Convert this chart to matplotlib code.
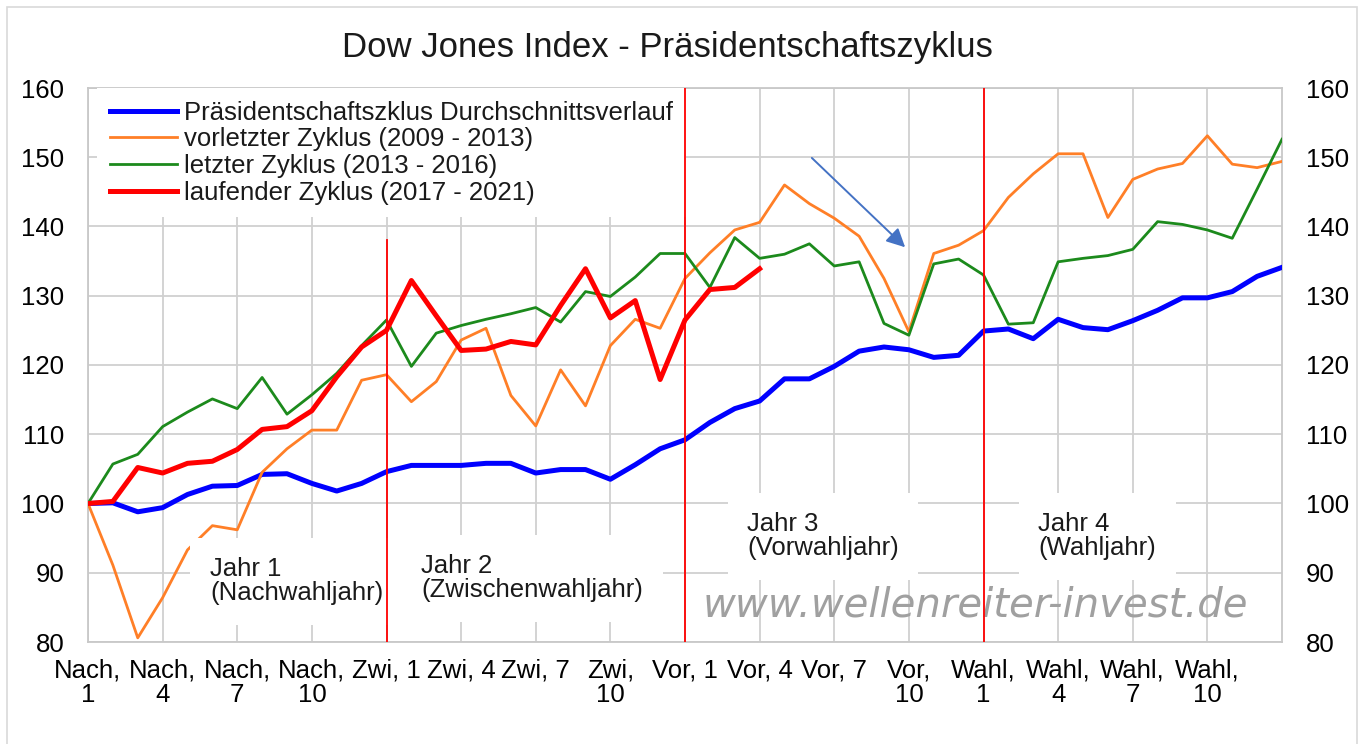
import matplotlib
matplotlib.use("Agg")
import matplotlib.pyplot as plt
from matplotlib.patches import Rectangle

# 49 monthly points: Nach 1..12, Zwi 1..12, Vor 1..12, Wahl 1..12, + 1
tick_pos = list(range(0, 48, 3))
tick_labels = [
    "Nach,\n1", "Nach,\n4", "Nach,\n7", "Nach,\n10",
    "Zwi, 1", "Zwi, 4", "Zwi, 7", "Zwi,\n10",
    "Vor, 1", "Vor, 4", "Vor, 7", "Vor,\n10",
    "Wahl,\n1", "Wahl,\n4", "Wahl,\n7", "Wahl,\n10",
]

avg_cycle = [100, 100.1, 98.8, 99.4, 101.3, 102.5, 102.6, 104.2, 104.3, 102.9,
             101.8, 102.9, 104.6, 105.5, 105.5, 105.5, 105.8, 105.8, 104.4, 104.9,
             104.9, 103.5, 105.6, 107.9, 109.2, 111.7, 113.7, 114.8, 118.0, 118.0,
             119.8, 122.0, 122.6, 122.2, 121.1, 121.4, 124.9, 125.2, 123.8, 126.6,
             125.4, 125.1, 126.4, 127.9, 129.7, 129.7, 130.6, 132.8, 134.1]

cycle_2009 = [100, 91.1, 80.6, 86.4, 93.3, 96.8, 96.2, 104.5, 107.9, 110.6,
              110.6, 117.8, 118.6, 114.7, 117.6, 123.6, 125.3, 115.6, 111.2, 119.3,
              114.1, 122.8, 126.6, 125.3, 132.5, 136.2, 139.5, 140.6, 146.0, 143.3,
              141.2, 138.6, 132.5, 124.8, 136.1, 137.3, 139.4, 144.2, 147.6, 150.5,
              150.5, 141.3, 146.8, 148.3, 149.1, 153.1, 149.0, 148.5, 149.4]

cycle_2013 = [100, 105.7, 107.1, 111.1, 113.2, 115.1, 113.7, 118.2, 112.9, 115.7,
              118.8, 122.8, 126.5, 119.8, 124.6, 125.7, 126.6, 127.4, 128.3, 126.2,
              130.6, 129.9, 132.7, 136.1, 136.1, 131.2, 138.4, 135.4, 136.0, 137.5,
              134.3, 134.9, 126.0, 124.3, 134.6, 135.3, 133.0, 125.9, 126.1, 134.9,
              135.4, 135.8, 136.7, 140.7, 140.3, 139.5, 138.3, 145.4, 152.6]

cycle_2017 = [100, 100.3, 105.2, 104.4, 105.8, 106.1, 107.8, 110.7, 111.1, 113.4,
              118.3, 122.6, 125.0, 132.2, 127.1, 122.1, 122.3, 123.4, 122.9, 128.6,
              133.9, 126.8, 129.3, 117.9, 126.5, 130.9, 131.2, 133.9]

year_starts = [12, 24, 36]
year_line_tops = [138.0, 160, 160]

year_texts = ["Jahr 1\n(Nachwahljahr)", "Jahr 2\n(Zwischenwahljahr)",
              "Jahr 3\n(Vorwahljahr)", "Jahr 4\n(Wahljahr)"]
year_text_pos = [(4.9, 88.8), (13.4, 89.2), (26.5, 95.3), (38.2, 95.3)]

arrow_from = (29.1, 149.9)
arrow_to = (32.85, 137.0)

plt.rcParams["font.family"] = ["Liberation Sans", "DejaVu Sans"]
FS = 18.5


def main():
    fig = plt.figure(figsize=(13.61, 7.44), dpi=100)
    fig.patches.append(Rectangle((7 / 1361, -0.01), 1350 / 1361, 1 - 7 / 744 + 0.01,
                                 transform=fig.transFigure, fill=False,
                                 edgecolor="#d9d9d9", lw=1.2))
    ax = fig.add_axes([88 / 1361, 1 - 642 / 744, 1194 / 1361, 554 / 744])

    x = list(range(len(avg_cycle)))
    ax.plot(x, avg_cycle, color="#0000ff", lw=3.6, zorder=3,
            label="Präsidentschaftszklus Durchschnittsverlauf")
    ax.plot(x, cycle_2009, color="#ff7f27", lw=2.0, zorder=4,
            label="vorletzter Zyklus (2009 - 2013)")
    ax.plot(x, cycle_2013, color="#1c8a1c", lw=2.0, zorder=5,
            label="letzter Zyklus (2013 - 2016)")
    ax.plot(range(len(cycle_2017)), cycle_2017, color="#ff0000", lw=3.6, zorder=6,
            label="laufender Zyklus (2017 - 2021)")

    for xs, top in zip(year_starts, year_line_tops):
        ax.plot([xs, xs], [80, top], color="#ff0000", lw=1.3, zorder=9)

    ax.set_xlim(0, 48)
    ax.set_ylim(80, 160)
    ax.set_yticks(range(80, 161, 10))
    ax.set_xticks(tick_pos)
    ax.set_xticklabels(tick_labels, fontsize=FS)
    for lbl in ax.get_xticklabels():
        lbl.set_linespacing(1.0)
    ax.tick_params(axis="x", length=0, pad=12)
    ax.tick_params(axis="y", length=0, labelsize=FS, pad=17,
                   labelleft=True, labelright=True)
    ax.grid(True, color="#d0d0d0", lw=1.3, zorder=0)
    ax.set_axisbelow(True)
    for s in ax.spines.values():
        s.set_color("#c8c8c8")
        s.set_linewidth(1.3)

    for txt, (tx, ty) in zip(year_texts, year_text_pos):
        ax.text(tx, ty, txt, fontsize=FS, ha="left", va="center", linespacing=1.0,
                color="#1a1a1a", zorder=7,
                bbox=dict(facecolor="white", edgecolor="none", pad=14))

    ax.text(24.7, 85.3, "www.wellenreiter-invest.de", family="DejaVu Sans",
            style="italic", fontsize=29, color="#a0a0a0", ha="left", va="center",
            zorder=2)

    ax.annotate("", xy=arrow_to, xytext=arrow_from, zorder=8,
                arrowprops=dict(arrowstyle="-|>", color="#4472c4", lw=1.4,
                                mutation_scale=28, shrinkA=0, shrinkB=0))

    leg = ax.legend(loc="upper left", bbox_to_anchor=(0.0075, 1.0), fontsize=FS,
                    frameon=True, fancybox=False, framealpha=1, facecolor="white",
                    edgecolor="none", borderpad=0.5, borderaxespad=0,
                    labelspacing=0.1, handlelength=2.6, handletextpad=0.3)
    leg.set_zorder(8)
    for t in leg.get_texts():
        t.set_color("#1a1a1a")

    fig.text(667.5 / 1361, 1 - 47 / 744, "Dow Jones Index - Präsidentschaftszyklus",
             fontsize=25, ha="center", va="center", color="#1a1a1a")

    fig.savefig("out.png", dpi=100)


if __name__ == "__main__":
    main()
